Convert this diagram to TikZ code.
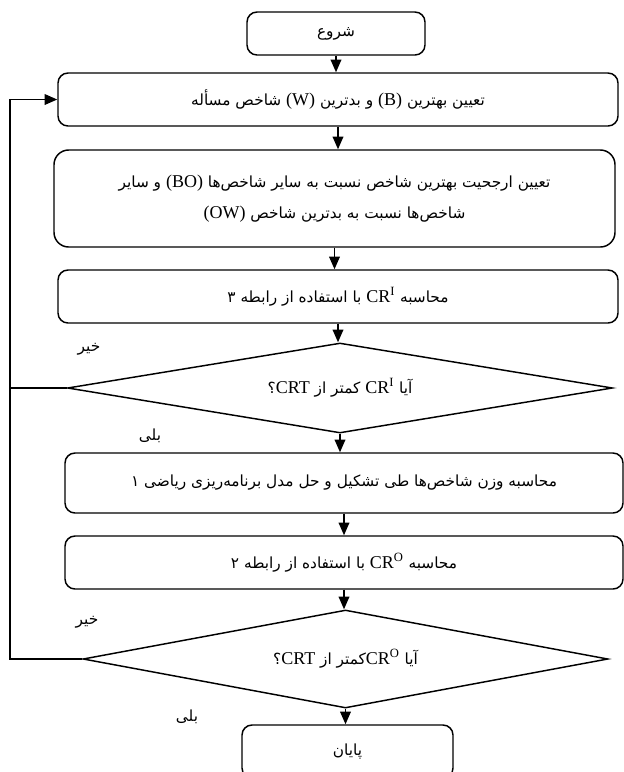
\documentclass[tikz,border=0pt]{standalone}
\usepackage{fontspec}
\setmainfont{Liberation Serif}
\newfontfamily\arabicfont[Script=Arabic]{DejaVu Sans}
\newfontfamily\latinfont{Liberation Serif}
\TeXXeTstate=1
\usetikzlibrary{shapes.geometric,arrows.meta}
\newcommand\FA[1]{{\arabicfont\beginR #1\endR}}
\newcommand\EN[1]{\beginL{\latinfont\fontsize{13.5pt}{15pt}\selectfont #1}\endL}
\begin{document}
\begin{tikzpicture}[x=0.75pt,y=-0.75pt,
  line width=1.1pt,
  every node/.style={font=\fontsize{11.5pt}{23pt}\selectfont},
  procbox/.style={draw,rounded corners=7.5pt,inner sep=0pt,align=center},
  termbox/.style={draw,rounded corners=7.5pt,inner sep=0pt},
  decbox/.style={draw,diamond,inner sep=0pt,aspect=5},
  lbl/.style={inner sep=0pt},
  arr/.style={-{Triangle[width=8pt,length=9.5pt]}}]
\fill[white] (0,0) rectangle (624,772);
\clip (0,0) rectangle (624,772);
\node[termbox,minimum width=133.5pt,minimum height=32.25pt] (start) at (336,33.5) {\FA{شروع}};
\node[procbox,minimum width=420pt,minimum height=39.75pt] (b1) at (338,99.5) {\FA{تعیین بهترین \EN{(B)} و بدترین \EN{(W)} شاخص مسأله}};
\node[procbox,rounded corners=11pt,minimum width=420.75pt,minimum height=72.75pt] (b2) at (334.5,198.5) {\FA{تعیین ارجحیت بهترین شاخص نسبت به سایر شاخص‌ها \EN{(BO)} و سایر}\\\FA{شاخص‌ها نسبت به بدترین شاخص \EN{(OW)}}};
\node[procbox,minimum width=420pt,minimum height=39.75pt] (b3) at (338,296.5) {\FA{محاسبه \EN{CR\textsuperscript{I}} با استفاده از رابطه ۳}};
\node[decbox,minimum width=408.75pt,minimum height=67.5pt] (d1) at (340,388) {\FA{آیا \EN{CR\textsuperscript{I}} کمتر از \EN{CRT}؟}};
\node[procbox,minimum width=418.5pt,minimum height=45pt] (b4) at (344,483) {\FA{محاسبه وزن شاخص‌ها طی تشکیل و حل مدل برنامه‌ریزی ریاضی ۱}};
\node[procbox,minimum width=418.5pt,minimum height=39.75pt] (b5) at (344,562.5) {\FA{محاسبه \EN{CR\textsuperscript{O}} با استفاده از رابطه ۲}};
\node[decbox,minimum width=393.75pt,minimum height=73.5pt] (d2) at (345.5,659) {\FA{آیا \EN{CR\textsuperscript{O}}کمتر از \EN{CRT}؟}};
\node[termbox,minimum width=158.25pt,minimum height=39.75pt] (end) at (347.5,751.5) {\FA{پایان}};
\node[lbl] (no1) at (89,349) {\FA{خیر}};
\node[lbl] (yes1) at (150,436) {\FA{بلی}};
\node[lbl] (no2) at (87,622) {\FA{خیر}};
\node[lbl] (yes2) at (187,717) {\FA{بلی}};
\coordinate (loop) at (10,99.5);
\draw[arr] (start.south) -- (start.south |- b1.north);
\draw[arr] (b1.south) -- (b1.south |- b2.north);
\draw[arr] (b2.south) -- (b2.south |- b3.north);
\draw[arr] (b3.south) -- (b3.south |- d1.north);
\draw[arr] (d1.south) -- (d1.south |- b4.north);
\draw[arr] (b4.south) -- (b4.south |- b5.north);
\draw[arr] (b5.south) -- (b5.south |- d2.north);
\draw[arr] (d2.south) -- (d2.south |- end.north);
\draw (d1.west) -- (d1.west -| loop);
\draw[arr] (d2.west) -- (d2.west -| loop) -- (loop) -- (b1.west);
\end{tikzpicture}
\end{document}
